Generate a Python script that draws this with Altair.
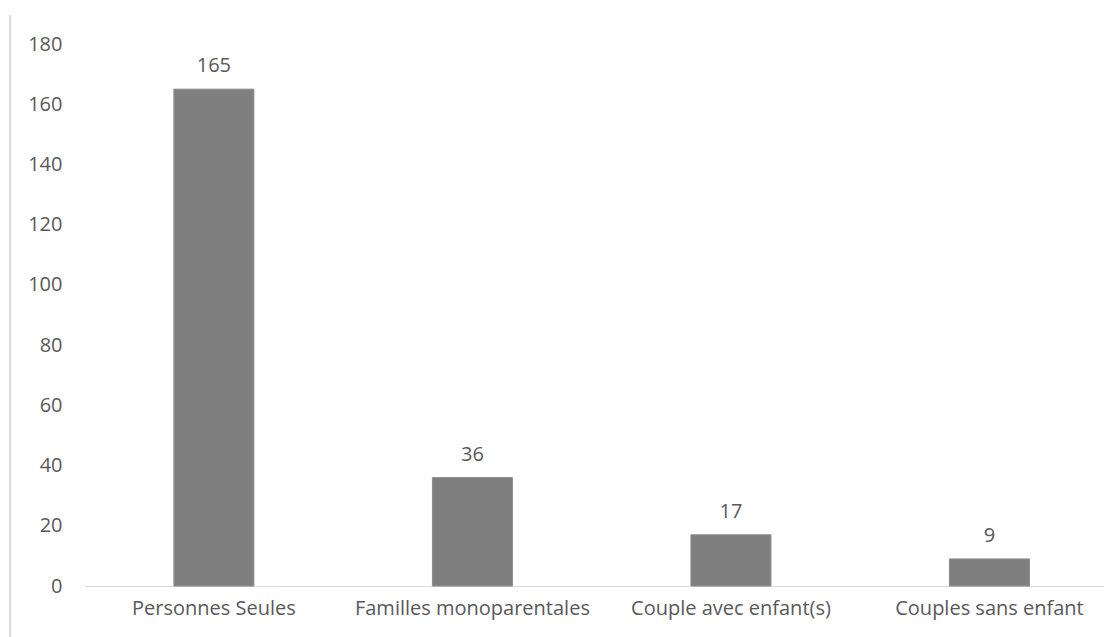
import altair as alt
import pandas as pd

categories = ["Personnes Seules", "Familles monoparentales", "Couple avec enfant(s)", "Couples sans enfant"]
values = [165, 36, 17, 9]

df = pd.DataFrame({"cat": categories, "val": values})

FONT = "Open Sans"
TXT = "#595959"

x = alt.X("cat:N", sort=categories, title=None,
          scale=alt.Scale(paddingInner=0.6905, paddingOuter=0.316, align=0.544),
          axis=alt.Axis(labelAngle=0, ticks=False, domainColor="#d9d9d9", domainWidth=1,
                        labelPadding=12, labelFont=FONT, labelFontSize=20, labelColor=TXT,
                        labelLimit=400))
y = alt.Y("val:Q", title=None,
          scale=alt.Scale(domain=[0, 180]),
          axis=alt.Axis(values=list(range(0, 181, 20)), ticks=False, domain=False, grid=False,
                        labelPadding=23, labelFont=FONT, labelFontSize=20, labelColor=TXT))

base = alt.Chart(df)
bars = base.mark_bar(color="#7f7f7f", stroke="#8c8c8c", strokeWidth=1).encode(x=x, y=y)
labels = base.mark_text(dy=-17, baseline="alphabetic", font=FONT, fontSize=20, color=TXT).encode(
    x=alt.X("cat:N", sort=categories), y="val:Q", text="val:Q")
border = alt.Chart(df.head(1)).mark_rule(color="#cfcfcf", strokeWidth=1.5).encode(
    x=alt.value(-75), y=alt.value(-29), y2=alt.value(600))

chart = alt.layer(bars, labels, border).properties(
    width=1019, height=542,
    autosize=alt.AutoSizeParams(type="none"),
    padding={"left": 85, "top": 44, "right": 0, "bottom": 51},
    background="white",
).configure_view(stroke=None)

chart.save("out.html", embed_options={"renderer": "svg", "actions": False})
